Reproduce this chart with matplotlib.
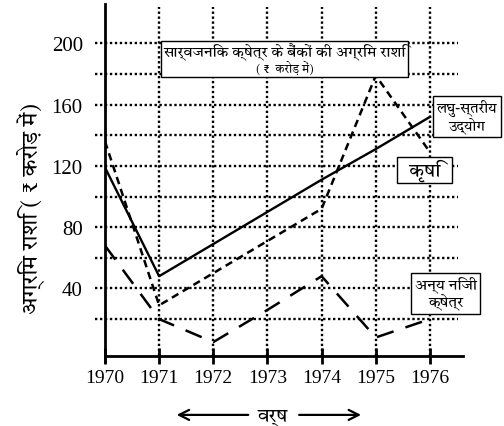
import numpy as np
import matplotlib
matplotlib.use("Agg")
import matplotlib.pyplot as plt
from matplotlib.offsetbox import TextArea, VPacker, AnnotationBbox

# data (crore rupees)
years = [1970, 1971, 1972, 1973, 1974, 1975, 1976]
laghu = [119, 48, 69, 90, 111, 131, 152]      # small-scale industry, solid
krishi = [136, 29, 50, 71, 92, 179, 129]      # agriculture, short dash
anya = [68, 20, 5, 26, 48, 8, 20]             # other private sector, long dash
grid_y = [20, 40, 60, 80, 100, 120, 140, 160, 180, 200]
ytick_vals = [40, 80, 120, 160, 200]

title_1 = "सार्वजनिक क्षेत्र के बैंकों की अग्रिम राशि"
title_2 = "( ₹  करोड़ में)"
lbl_laghu = "लघु-स्तरीय\nउद्योग"
lbl_krishi = "कृषि"
lbl_anya = "अन्य निजी\nक्षेत्र"
ylab = "अग्रिम राशि ( ₹ करोड़ में)"
xlab = "वर्ष"

deva = ["Tiro Devanagari Hindi", "Noto Serif Devanagari", "DejaVu Sans"]
serif = "Liberation Serif"
dot = (0, (1, 1.1))

fig = plt.figure(figsize=(5.04, 4.27), dpi=100)
ax = fig.add_axes([0.2083, 0.1499, 0.7103, 0.8384])
ax.set_xlim(1970, 1976.61)
ax.set_ylim(-8, 225.7)

# dotted grid, horizontal lines poke out left of the axis
ax.hlines(grid_y, 1969.82, 1976.52, colors="black", lw=1.7,
          linestyles=dot, clip_on=False, zorder=1)
ax.vlines(years[1:], -3.9, 224, colors="black", lw=1.7,
          linestyles=dot, zorder=1)

ax.plot(years, laghu, color="black", lw=1.7, zorder=3)
ax.plot(years, krishi, color="black", lw=1.8, dashes=(3, 2), zorder=3)
ax.plot(years, anya, color="black", lw=1.8, dashes=(7, 5), zorder=3)

for spine in ["top", "right"]:
    ax.spines[spine].set_visible(False)
ax.spines["left"].set_linewidth(2)
ax.spines["bottom"].set_linewidth(2)
ax.spines["bottom"].set_position(("data", -3.9))

ax.set_xticks(years)
ax.set_xticklabels([str(y) for y in years], family=serif, fontsize=14)
ax.set_yticks(ytick_vals)
ax.set_yticklabels([str(v) for v in ytick_vals], family=serif, fontsize=15)
ax.tick_params(axis="x", direction="inout", length=11, width=2, pad=4)
ax.tick_params(axis="y", length=0, pad=16)

# boxed labels
box = dict(boxstyle="square,pad=0.25", fc="white", ec="black", lw=1)
t1 = TextArea(title_1, textprops=dict(family=deva, fontsize=11))
t2 = TextArea(title_2, textprops=dict(family=deva, fontsize=8.5))
pack = VPacker(children=[t1, t2], align="center", pad=0, sep=0)
ab = AnnotationBbox(pack, (1973.32, 190), frameon=True, pad=0.15,
                    box_alignment=(0.5, 0.5), zorder=5,
                    bboxprops=dict(fc="white", ec="black", lw=1))
ax.add_artist(ab)

ax.text(1976.68, 152, lbl_laghu, family=deva, fontsize=10.5, ha="center",
        va="center", multialignment="center", linespacing=1.0,
        bbox=box, clip_on=False, zorder=5)
ax.text(1975.9, 117.4, "  " + lbl_krishi + "  ", family=deva, fontsize=14,
        fontweight="bold", ha="center", va="center",
        bbox=dict(boxstyle="square,pad=0.1", fc="white", ec="black", lw=1),
        zorder=5)
ax.text(1976.29, 36.5, lbl_anya, family=deva, fontsize=11, ha="center",
        va="center", multialignment="center", linespacing=1.0,
        bbox=box, clip_on=False, zorder=5)

fig.text(0.06, 0.513, ylab, family=deva, fontsize=16, rotation=90,
         ha="center", va="center")

# year arrow under the axis
fig.text(0.542, 0.02, xlab, family=deva, fontsize=14, ha="center", va="center")
ax.annotate("", xy=(0.345, 0.026), xytext=(0.498, 0.026),
            xycoords="figure fraction", textcoords="figure fraction",
            arrowprops=dict(arrowstyle="->", lw=1.6, color="black",
                            mutation_scale=18))
ax.annotate("", xy=(0.722, 0.026), xytext=(0.588, 0.026),
            xycoords="figure fraction", textcoords="figure fraction",
            arrowprops=dict(arrowstyle="->", lw=1.6, color="black",
                            mutation_scale=18))

plt.savefig("out.png", dpi=100)
